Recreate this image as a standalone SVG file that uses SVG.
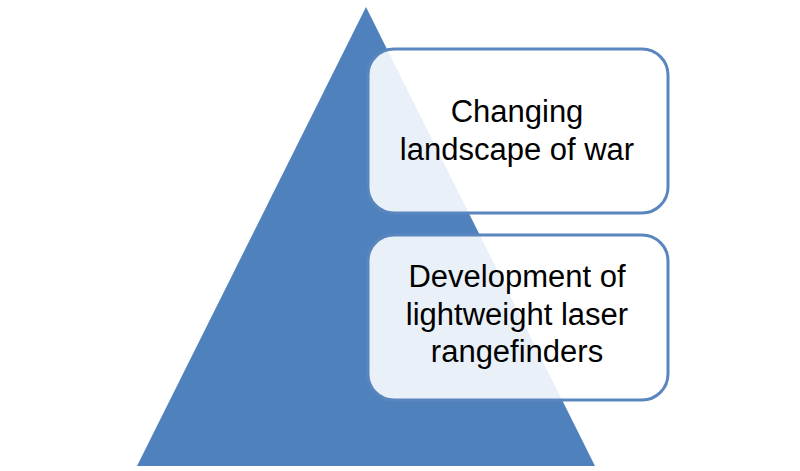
<svg xmlns="http://www.w3.org/2000/svg" width="800" height="471" viewBox="0 0 800 471">
<style>
.box{fill:#ffffff;fill-opacity:0.88;stroke:#5a86bf;stroke-width:3}
.t{font-family:"Liberation Sans","Open Sans",sans-serif;font-size:31px;fill:#000;text-anchor:middle}
</style>
<rect width="800" height="471" fill="#ffffff"/>
<g id="pyramid"><polygon points="366,7 595,466 137,466" fill="#4f81bd"/></g>
<g id="connectors"></g>
<g id="node1">
<rect class="box" x="368" y="49" width="300" height="164" rx="26"/>
<text class="t" x="517" y="122">Changing</text>
<text class="t" x="517" y="160">landscape of war</text>
</g>
<g id="node2">
<rect class="box" x="368" y="235" width="300" height="165" rx="26"/>
<text class="t" x="517" y="287">Development of</text>
<text class="t" x="517" y="325">lightweight laser</text>
<text class="t" x="517" y="362">rangefinders</text>
</g>
</svg>
